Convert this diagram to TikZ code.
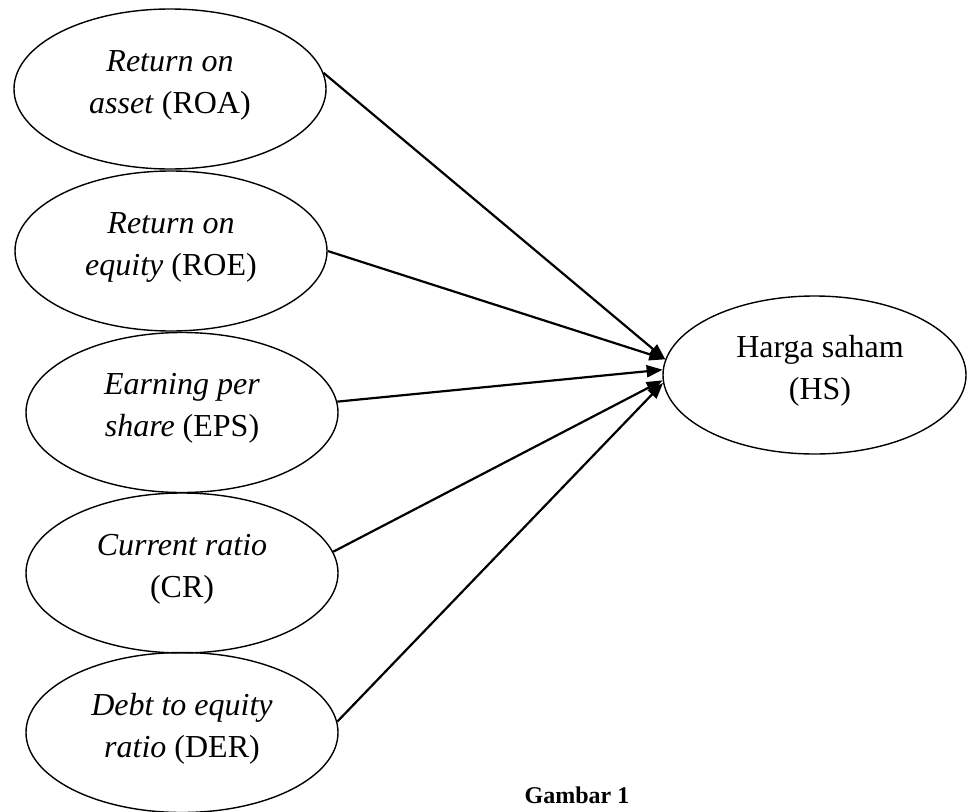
\documentclass[tikz,border=0pt]{standalone}
\usepackage{fontspec}
\setmainfont{Liberation Serif}
\usetikzlibrary{shapes.geometric,arrows.meta}
\begin{document}
\begin{tikzpicture}[x=1pt,y=-1pt,
  ell/.style={draw, ellipse, line width=1.4pt, inner sep=0pt, minimum width=312pt, minimum height=160pt},
  lab/.style={align=center, font=\fontsize{32}{42}\selectfont, inner sep=0pt},
  link/.style={line width=2.2pt, -{Triangle[length=16pt,width=12pt]}}]
\useasboundingbox (0,0) rectangle (968,811);
\node[ell] (roa) at (170,89) {};
\node[ell] (roe) at (171,251) {};
\node[ell] (eps) at (182,412.5) {};
\node[ell] (cr) at (182,573) {};
\node[ell] (der) at (182,732.5) {};
\node[ell, minimum width=303pt, minimum height=158pt] (hs) at (814.5,375) {};
\node[lab] (troa) at (170,85) {\textit{Return on}\\\textit{asset} (ROA)};
\node[lab] (troe) at (171,247) {\textit{Return on}\\\textit{equity} (ROE)};
\node[lab] (teps) at (182,408.5) {\textit{Earning per}\\\textit{share} (EPS)};
\node[lab] (tcr) at (182,569) {\textit{Current ratio}\\(CR)};
\node[lab] (tder) at (182,728.5) {\textit{Debt to equity}\\\textit{ratio} (DER)};
\node[lab] (ths) at (820,371) {Harga saham\\(HS)};
\node[font=\fontsize{24}{28}\selectfont\bfseries, anchor=base, inner sep=0pt] (cap) at (577,803) {Gambar 1};
\draw[link] (roa.6) -- (hs.174);
\draw[link] (roe.0) -- (hs.174);
\draw[link] (eps.4) -- (hs.178.5);
\draw[link] (cr.8.7) -- (hs.182);
\draw[link] (der.4.8) -- (hs.183);
\end{tikzpicture}
\end{document}
